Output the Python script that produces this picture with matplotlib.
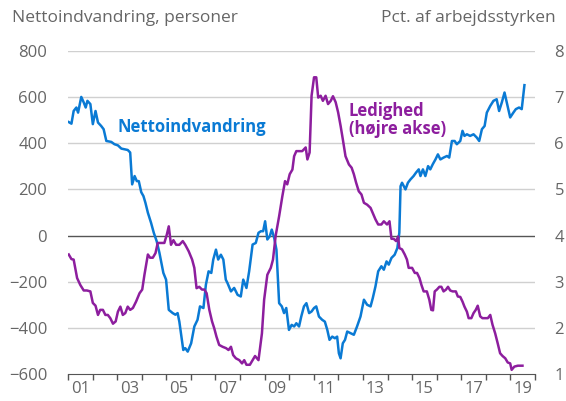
import matplotlib.pyplot as plt
from matplotlib.ticker import FixedLocator

plt.rcParams['font.family'] = ['Open Sans', 'DejaVu Sans']

# Nettoindvandring (venstre akse)
netto_aar = [2001.03, 2001.14, 2001.23, 2001.34, 2001.41, 2001.54, 2001.64, 2001.72, 2001.79, 2001.91,
             2002.01, 2002.12, 2002.22, 2002.35, 2002.45, 2002.56, 2002.76, 2002.89, 2003.03, 2003.17,
             2003.30, 2003.43, 2003.53, 2003.61, 2003.71, 2003.80, 2003.88, 2003.98, 2004.07, 2004.15,
             2004.25, 2004.38, 2004.49, 2004.61, 2004.72, 2004.88, 2004.99, 2005.10, 2005.26, 2005.37,
             2005.46, 2005.53, 2005.69, 2005.77, 2005.87, 2006.01, 2006.14, 2006.27, 2006.37, 2006.51,
             2006.61, 2006.72, 2006.83, 2006.91, 2007.02, 2007.11, 2007.22, 2007.32, 2007.42, 2007.49,
             2007.63, 2007.76, 2007.90, 2008.03, 2008.13, 2008.26, 2008.37, 2008.51, 2008.64, 2008.75,
             2008.85, 2008.94, 2009.02, 2009.11, 2009.21, 2009.29, 2009.39, 2009.48, 2009.59, 2009.70,
             2009.79, 2009.88, 2009.99, 2010.10, 2010.20, 2010.29, 2010.40, 2010.49, 2010.60, 2010.70,
             2010.81, 2010.91, 2011.01, 2011.10, 2011.21, 2011.34, 2011.45, 2011.55, 2011.64, 2011.75,
             2011.86, 2011.95, 2012.02, 2012.09, 2012.18, 2012.27, 2012.36, 2012.50, 2012.63, 2012.76,
             2012.90, 2013.04, 2013.17, 2013.31, 2013.40, 2013.51, 2013.62, 2013.75, 2013.85, 2013.96,
             2014.05, 2014.16, 2014.29, 2014.40, 2014.48, 2014.53, 2014.59, 2014.73, 2014.83, 2014.93,
             2015.06, 2015.16, 2015.27, 2015.34, 2015.44, 2015.54, 2015.65, 2015.74, 2015.84, 2015.95,
             2016.05, 2016.15, 2016.28, 2016.42, 2016.51, 2016.62, 2016.73, 2016.82, 2016.96, 2017.05,
             2017.13, 2017.23, 2017.36, 2017.50, 2017.63, 2017.73, 2017.84, 2017.95, 2018.04, 2018.18,
             2018.31, 2018.44, 2018.54, 2018.65, 2018.76, 2018.85, 2018.99, 2019.12, 2019.22, 2019.35,
             2019.46, 2019.57]
netto = [492, 485, 540, 555, 533, 601, 577, 555, 584, 570,
         483, 540, 490, 475, 461, 410, 406, 396, 391, 377,
         374, 371, 360, 222, 258, 236, 236, 188, 171, 142,
         99, 55, 12, -25, -75, -162, -191, -322, -336, -343,
         -336, -373, -496, -488, -503, -467, -394, -365, -307, -314,
         -213, -155, -162, -104, -61, -104, -83, -104, -191, -206,
         -242, -227, -257, -264, -191, -227, -155, -39, -32, 12,
         19, 19, 62, -17, -3, 26, -10, -61, -293, -307,
         -336, -314, -409, -387, -394, -380, -394, -351, -307, -293,
         -336, -329, -314, -307, -351, -365, -373, -409, -452, -438,
         -445, -438, -510, -532, -467, -452, -416, -423, -430, -394,
         -351, -278, -300, -307, -271, -220, -155, -133, -148, -112,
         -126, -97, -83, -54, 12, 214, 229, 200, 229, 243,
         258, 273, 287, 258, 287, 258, 301, 287, 309, 330,
         352, 330, 338, 345, 338, 410, 410, 396, 410, 454,
         432, 439, 432, 439, 425, 410, 461, 475, 533, 562,
         584, 591, 540, 577, 620, 577, 512, 533, 548, 555,
         548, 652]

# Ledighed, pct. af arbejdsstyrken (højre akse)
ledig_aar = [2001.03, 2001.14, 2001.23, 2001.37, 2001.50, 2001.64, 2001.77, 2001.91, 2002.01, 2002.12,
             2002.22, 2002.31, 2002.42, 2002.52, 2002.62, 2002.72, 2002.83, 2002.94, 2003.03, 2003.13,
             2003.23, 2003.33, 2003.43, 2003.53, 2003.64, 2003.77, 2003.91, 2004.02, 2004.11, 2004.25,
             2004.34, 2004.45, 2004.56, 2004.65, 2004.79, 2004.92, 2005.02, 2005.10, 2005.19, 2005.29,
             2005.40, 2005.53, 2005.67, 2005.77, 2005.91, 2006.05, 2006.14, 2006.23, 2006.34, 2006.45,
             2006.55, 2006.64, 2006.75, 2006.86, 2006.95, 2007.04, 2007.15, 2007.29, 2007.43, 2007.53,
             2007.63, 2007.72, 2007.83, 2007.97, 2008.08, 2008.17, 2008.26, 2008.40, 2008.51, 2008.61,
             2008.75, 2008.89, 2008.98, 2009.11, 2009.25, 2009.34, 2009.45, 2009.59, 2009.72, 2009.83,
             2009.92, 2010.02, 2010.13, 2010.20, 2010.29, 2010.40, 2010.53, 2010.67, 2010.74, 2010.83,
             2010.91, 2011.01, 2011.10, 2011.18, 2011.28, 2011.37, 2011.48, 2011.58, 2011.69, 2011.78,
             2011.89, 2011.99, 2012.09, 2012.18, 2012.29, 2012.43, 2012.54, 2012.63, 2012.72, 2012.83,
             2012.94, 2013.04, 2013.17, 2013.31, 2013.40, 2013.51, 2013.62, 2013.75, 2013.85, 2013.98,
             2014.08, 2014.16, 2014.25, 2014.35, 2014.43, 2014.48, 2014.59, 2014.70, 2014.79, 2014.86,
             2015.00, 2015.11, 2015.20, 2015.30, 2015.38, 2015.47, 2015.60, 2015.70, 2015.78, 2015.85,
             2015.92, 2016.01, 2016.11, 2016.19, 2016.28, 2016.38, 2016.46, 2016.55, 2016.65, 2016.78,
             2016.86, 2016.96, 2017.05, 2017.13, 2017.23, 2017.30, 2017.41, 2017.50, 2017.59, 2017.67,
             2017.77, 2017.86, 2017.97, 2018.08, 2018.18, 2018.27, 2018.38, 2018.48, 2018.58, 2018.68,
             2018.79, 2018.89, 2018.99, 2019.05, 2019.16, 2019.30, 2019.49]
ledighed = [3.59, 3.49, 3.48, 3.08, 2.93, 2.81, 2.81, 2.79, 2.54, 2.48,
            2.28, 2.39, 2.39, 2.28, 2.28, 2.21, 2.09, 2.14, 2.35, 2.46,
            2.28, 2.32, 2.46, 2.39, 2.43, 2.57, 2.75, 2.83, 3.15, 3.59,
            3.52, 3.52, 3.62, 3.84, 3.84, 3.84, 4.02, 4.20, 3.80, 3.90,
            3.80, 3.80, 3.88, 3.80, 3.66, 3.48, 3.30, 2.86, 2.89, 2.83,
            2.83, 2.75, 2.39, 2.14, 1.99, 1.81, 1.63, 1.59, 1.56, 1.52,
            1.59, 1.41, 1.34, 1.30, 1.23, 1.30, 1.20, 1.20, 1.30, 1.39,
            1.30, 1.88, 2.61, 3.15, 3.30, 3.48, 4.00, 4.42, 4.85, 5.18,
            5.11, 5.33, 5.43, 5.72, 5.83, 5.83, 5.83, 5.91, 5.65, 5.80,
            7.03, 7.43, 7.43, 6.99, 7.03, 6.92, 7.03, 6.85, 6.92, 7.02,
            6.89, 6.67, 6.38, 6.09, 5.72, 5.54, 5.47, 5.33, 5.15, 4.96,
            4.89, 4.71, 4.67, 4.60, 4.49, 4.35, 4.24, 4.24, 4.31, 4.24,
            4.31, 3.93, 3.93, 3.88, 3.98, 3.73, 3.70, 3.59, 3.48, 3.30,
            3.30, 3.19, 3.19, 3.08, 2.93, 2.79, 2.79, 2.61, 2.39, 2.38,
            2.79, 2.83, 2.89, 2.89, 2.79, 2.83, 2.89, 2.81, 2.79, 2.79,
            2.68, 2.67, 2.57, 2.46, 2.35, 2.21, 2.21, 2.32, 2.39, 2.48,
            2.25, 2.21, 2.21, 2.21, 2.28, 2.07, 1.88, 1.67, 1.45, 1.39,
            1.34, 1.25, 1.23, 1.09, 1.16, 1.18, 1.18]

tick_labels = ['01', '03', '05', '07', '09', '11', '13', '15', '17', '19']

blaa = '#0a7ad4'
lilla = '#8d1e9e'
graa = '#666666'

fig = plt.figure(figsize=(5.66, 4.01), dpi=100)
ax = fig.add_axes([68 / 566, 1 - 374 / 401, (535 - 68) / 566, (374 - 51) / 401])
ax2 = ax.twinx()

ax.set_xlim(2001, 2020)
ax.set_ylim(-600, 800)
ax2.set_ylim(1, 8)

ax.set_yticks(range(-600, 801, 200))
ax2.set_yticks(range(1, 9))
for v in range(-400, 801, 200):
    ax.axhline(v, color='#555555' if v == 0 else '#d0d0d0', lw=1.0, zorder=0)

ax.plot(netto_aar, netto, color=blaa, lw=1.8, zorder=3)
ax2.plot(ledig_aar, ledighed, color=lilla, lw=1.8, zorder=3)

ax.xaxis.set_major_locator(FixedLocator([2001.5 + 2 * i for i in range(len(tick_labels))]))
ax.set_xticklabels(tick_labels)
ax.xaxis.set_minor_locator(FixedLocator(range(2001, 2021)))
ax.tick_params(axis='x', which='major', length=0, pad=5, labelsize=12, labelcolor=graa)
ax.tick_params(axis='x', which='minor', length=4, width=1, color='#555555')
ax.tick_params(axis='y', length=0, pad=15, labelsize=12, labelcolor=graa)
ax2.tick_params(axis='y', length=0, pad=14, labelsize=12, labelcolor=graa)

for a in (ax, ax2):
    for s in ['top', 'left', 'right']:
        a.spines[s].set_visible(False)
ax.spines['bottom'].set_color('#555555')
ax2.spines['bottom'].set_visible(False)

ax.text(2003.02, 470, 'Nettoindvandring', color=blaa, fontsize=12,
        fontweight='bold', va='center', ha='left', zorder=5)
ax.text(2012.43, 502, 'Ledighed\n(højre akse)', color=lilla, fontsize=12,
        fontweight='bold', va='center', ha='left', linespacing=1.0, zorder=5)

fig.text(12 / 566, 1 - 18 / 401, 'Nettoindvandring, personer', color=graa,
         fontsize=12.5, va='center', ha='left')
fig.text(556 / 566, 1 - 18 / 401, 'Pct. af arbejdsstyrken', color=graa,
         fontsize=12.5, va='center', ha='right')

fig.savefig('out.png', dpi=100)
